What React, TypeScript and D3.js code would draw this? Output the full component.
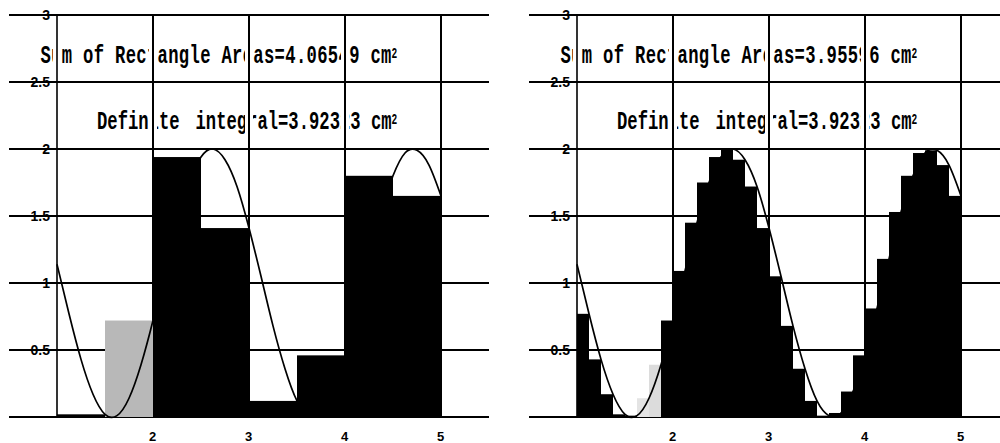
import React from "react";
import * as d3 from "d3";

// tick values
const yGrid = [0, 0.5, 1, 1.5, 2, 2.5, 3];
const yLabels = [0.5, 1, 1.5, 2, 2.5, 3];
const xGrid = [1, 2, 3, 4, 5];
const xLabels = [2, 3, 4, 5];

// curve, one value every 0.125 from x = 1
const curveStart = 1;
const curveStep = 0.125;
const curveValues = [
  1.14, 0.77, 0.43, 0.17, 0.02, 0.01, 0.14, 0.39, 0.72, 1.09, 1.45, 1.75,
  1.94, 2.0, 1.92, 1.72, 1.41, 1.05, 0.68, 0.36, 0.12, 0.01, 0.03, 0.19,
  0.46, 0.81, 1.18, 1.53, 1.8, 1.97, 1.99, 1.88, 1.65,
];

// rectangle heights (right end points)
const leftHeights = [0.02, 0.72, 1.94, 1.41, 0.12, 0.46, 1.8, 1.65];
const rightHeights = [
  0.77, 0.43, 0.17, 0.02, 0.01, 0.14, 0.39, 0.72, 1.09, 1.45, 1.75, 1.94,
  2.0, 1.92, 1.72, 1.41, 1.05, 0.68, 0.36, 0.12, 0.01, 0.03, 0.19, 0.46,
  0.81, 1.18, 1.53, 1.8, 1.97, 1.99, 1.88, 1.65,
];

const sums = ["4.06549", "3.95596"];
const integral = "3.92323";

const W = 1000;
const H = 443;
const PANEL_W = 480;
const FS = 17.2; // mono font size
const ADV = 10.32; // char advance seen in the scan
const STRETCH = 1.45;
const mono = "'Liberation Mono', 'DejaVu Sans Mono', monospace";
const sans = "'Liberation Sans', Arial, sans-serif";

const panels = [
  { offset: 9, heights: leftHeights, start: 1, width: 0.5, sum: sums[0], pale: { 1: "#b8b8b8" } },
  { offset: 529, heights: rightHeights, start: 1, width: 0.125, sum: sums[1], pale: { 5: "#e4e4e4", 6: "#dcdcdc" } },
];

const rows = [
  { top: 44, bottom: 67 },
  { top: 110, bottom: 133 },
];

function Mono({ x, text }) {
  return (
    <text
      x={x}
      y={0}
      fontFamily={mono}
      fontSize={FS}
      fontWeight={700}
      textLength={text.length * ADV}
      lengthAdjust="spacing"
    >
      {text}
    </text>
  );
}

function Panel({ p, idx }) {
  const x = d3.scaleLinear().domain([0.5, 5.5]).range([p.offset, p.offset + PANEL_W]);
  const y = d3.scaleLinear().domain([0, 3]).range([417, 15]);
  const pts = curveValues.map((v, i) => [curveStart + i * curveStep, v]);
  const line = d3
    .line()
    .x((d) => x(d[0]))
    .y((d) => y(d[1]))
    .curve(d3.curveNatural);

  const x1 = x(1);
  const line1 = `Sum of Rectangle  Areas=${p.sum} cm`;
  const l1x = x1 - 16.5;
  const l2a = x1 + 40;
  const l2b = x1 + 138.5;
  const line2b = `integral=${integral} cm`;
  const clipId = `rows-${idx}`;

  return (
    <g>
      {/* grid */}
      {yGrid.map((v) => (
        <line key={"h" + v} x1={x(0.5)} x2={x(5.5)} y1={y(v)} y2={y(v)} stroke="#000" strokeWidth={2} />
      ))}
      {xGrid.map((v) => (
        <line key={"v" + v} x1={x(v)} x2={x(v)} y1={y(3)} y2={y(0)} stroke="#000" strokeWidth={v === 1 ? 1.6 : 2} />
      ))}

      {/* rectangles */}
      {p.heights.map((h, i) => {
        const a = p.start + i * p.width;
        return (
          <rect
            key={"r" + i}
            x={x(a)}
            y={y(h)}
            width={x(a + p.width) - x(a)}
            height={y(0) - y(h)}
            fill={p.pale[i] || "#000"}
          />
        );
      })}

      {/* function */}
      <path d={line(pts)} fill="none" stroke="#000" strokeWidth={1.7} />

      {/* labels */}
      {yLabels.map((v) => (
        <text
          key={"yl" + v}
          x={x1 - 7}
          y={y(v)}
          dy="0.36em"
          textAnchor="end"
          fontFamily={sans}
          fontWeight={700}
          fontSize={14}
        >
          {d3.format("")(v)}
        </text>
      ))}
      {xLabels.map((v) => (
        <text
          key={"xl" + v}
          x={x(v) - 0.5}
          y={440.5}
          textAnchor="middle"
          fontFamily={sans}
          fontWeight={700}
          fontSize={13}
        >
          {v}
        </text>
      ))}

      {/* annotation text */}
      <g transform={`translate(${l1x},62.5) scale(1,${STRETCH})`}>
        <Mono x={0} text={line1} />
        <text x={line1.length * ADV} y={-4.6 / STRETCH} fontFamily={mono} fontWeight={700} fontSize={9.5}>2</text>
      </g>
      <g transform={`translate(${l2a},128.5) scale(1,${STRETCH})`}>
        <Mono x={0} text="Definite" />
        <Mono x={l2b - l2a} text={line2b} />
        <text x={l2b - l2a + line2b.length * ADV} y={-4.6 / STRETCH} fontFamily={mono} fontWeight={700} fontSize={9.5}>2</text>
      </g>

      {/* vertical lines knock out the characters they cross */}
      <clipPath id={clipId}>
        {rows.map((r, i) => (
          <rect key={i} x={p.offset} y={r.top} width={PANEL_W} height={r.bottom - r.top} />
        ))}
      </clipPath>
      <g clipPath={`url(#${clipId})`}>
        {xGrid.map((v) => (
          <rect key={"k" + v} x={x(v) - 4} y={0} width={8} height={H} fill="#fff" />
        ))}
        {xGrid.map((v) => (
          <line key={"kl" + v} x1={x(v)} x2={x(v)} y1={0} y2={H} stroke="#000" strokeWidth={v === 1 ? 1.6 : 2} />
        ))}
      </g>
    </g>
  );
}

export default function App() {
  return (
    <div style={{ position: "absolute", left: 0, top: 0 }}>
      <svg width={W} height={H} style={{ display: "block", background: "#fff" }}>
        {panels.map((p, i) => (
          <Panel key={i} p={p} idx={i} />
        ))}
      </svg>
    </div>
  );
}
